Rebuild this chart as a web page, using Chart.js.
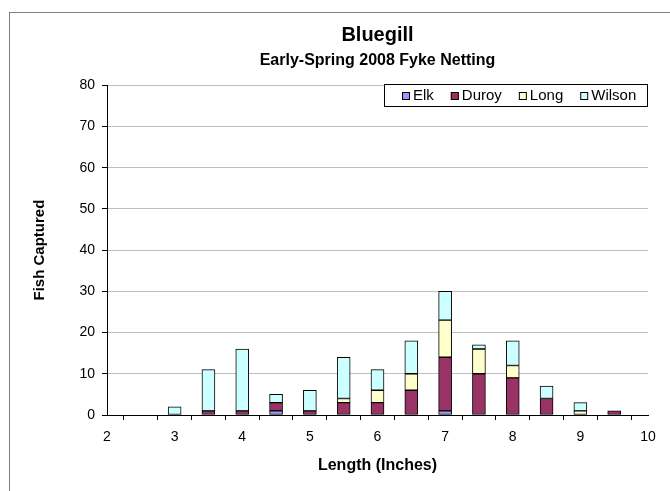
<!DOCTYPE html>
<html>
<head>
<meta charset="utf-8">
<script src="https://cdn.jsdelivr.net/npm/chart.js@4"></script>
<style>
  html, body { margin: 0; padding: 0; background: #fff; }
</style>
</head>
<body>
<canvas id="bar-chart" width="670" height="491"></canvas>
<script>
// length classes (inches), one per bar slot
const lengths = ["2", "2.5", "3", "3.5", "4", "4.5", "5", "5.5", "6", "6.5", "7", "7.5", "8", "8.5", "9", "9.5", "10"];
const tickLabels = ["2", "3", "4", "5", "6", "7", "8", "9", "10"];

// fish captured per lake
const elk    = [0, 0, 0, 0, 0, 1, 0, 0, 0, 0, 1, 0, 0, 0, 0, 0, 0];
const duroy  = [0, 0, 0, 1, 1, 2, 1, 3, 3, 6, 13, 10, 9, 4, 0, 1, 0];
const long   = [0, 0, 0, 0, 0, 0, 0, 1, 3, 4, 9, 6, 3, 0, 1, 0, 0];
const wilson = [0, 0, 2, 10, 15, 2, 5, 10, 5, 8, 7, 1, 6, 3, 2, 0, 0];

const FONT = "'Liberation Sans', Arial, sans-serif";
Chart.defaults.font.family = FONT;
Chart.defaults.color = '#000';

// outer frame like the spreadsheet chart object
const frame = {
    id: 'frame',
    beforeDraw(chart) {
        const ctx = chart.ctx;
        ctx.save();
        ctx.fillStyle = '#fff';
        ctx.fillRect(0, 0, chart.width, chart.height);
        ctx.strokeStyle = '#808080';
        ctx.lineWidth = 1;
        ctx.strokeRect(9.5, 12.5, 700, 600);
        ctx.restore();
    }
};

// boxed legend in the top right corner of the plot
const boxLegend = {
    id: 'boxLegend',
    afterDraw(chart) {
        const ctx = chart.ctx, area = chart.chartArea;
        const sets = chart.data.datasets;
        ctx.save();
        ctx.font = '15px ' + FONT;
        const sq = 8, gapText = 3, gapItem = 17, padL = 18, padR = 12, h = 22;
        let w = padL + padR;
        sets.forEach((d, i) => {
            w += sq + gapText + ctx.measureText(d.label).width;
            if (i) w += gapItem;
        });
        w = Math.round(w);
        const x0 = area.right - w, y0 = Math.round(area.top) - 1;
        ctx.fillStyle = '#fff';
        ctx.fillRect(x0, y0, w, h);
        ctx.strokeStyle = '#000';
        ctx.lineWidth = 1;
        ctx.strokeRect(x0 + 0.5, y0 + 0.5, w - 1, h);
        let x = x0 + padL;
        const cy = y0 + h / 2 + 1;
        ctx.textBaseline = 'middle';
        sets.forEach(d => {
            ctx.fillStyle = d.backgroundColor;
            ctx.fillRect(x, cy - sq / 2, sq, sq);
            ctx.strokeRect(x + 0.5, cy - sq / 2 + 0.5, sq - 1, sq - 1);
            x += sq + gapText;
            ctx.fillStyle = '#000';
            ctx.fillText(d.label, x, cy);
            x += ctx.measureText(d.label).width + gapItem;
        });
        ctx.restore();
    }
};

const barStyle = { borderColor: '#000', borderWidth: 1, borderSkipped: false, barThickness: 13 };
// empty slots draw nothing
const noZero = arr => arr.map(v => (v === 0 ? null : v));

new Chart(document.getElementById("bar-chart"), {
    type: 'bar',
    data: {
        labels: lengths,
        datasets: [
            { label: 'Elk', data: noZero(elk), backgroundColor: '#9999FF', ...barStyle },
            { label: 'Duroy', data: noZero(duroy), backgroundColor: '#993366', ...barStyle },
            { label: 'Long', data: noZero(long), backgroundColor: '#FFFFCC', ...barStyle },
            { label: 'Wilson', data: noZero(wilson), backgroundColor: '#CCFFFF', ...barStyle }
        ]
    },
    options: {
        responsive: false,
        animation: false,
        layout: { padding: { top: 23, left: 20, right: 22, bottom: 0 } },
        plugins: {
            legend: { display: false },
            tooltip: { enabled: false },
            title: {
                display: true,
                text: 'Bluegill',
                fullSize: false,
                font: { size: 20, weight: 'bold' },
                padding: { top: 0, bottom: 4 }
            },
            subtitle: {
                display: true,
                text: 'Early-Spring 2008 Fyke Netting',
                fullSize: false,
                color: '#000',
                font: { size: 16, weight: 'bold' },
                padding: { top: 0, bottom: 15 }
            }
        },
        scales: {
            x: {
                stacked: true,
                offset: false,
                border: { color: '#000' },
                grid: { drawOnChartArea: false, tickColor: '#000', tickLength: 5 },
                ticks: {
                    autoSkip: false,
                    maxRotation: 0,
                    padding: 9,
                    font: { size: 14 },
                    callback: function (v) {
                        const lab = this.getLabelForValue(v);
                        return tickLabels.includes(lab) ? lab : '';
                    }
                },
                title: {
                    display: true,
                    text: 'Length (Inches)',
                    font: { size: 16, weight: 'bold' },
                    padding: { top: 0, bottom: 16 }
                },
                afterFit: (scale) => { scale.height = 76; }
            },
            y: {
                stacked: true,
                min: 0,
                max: 80,
                border: { color: '#000' },
                grid: { color: '#c0c0c0', tickColor: '#000', tickLength: 5 },
                ticks: { stepSize: 10, padding: 7, font: { size: 14 } },
                title: {
                    display: true,
                    text: 'Fish Captured',
                    font: { size: 15, weight: 'bold' },
                    padding: { top: 11, bottom: 0 }
                },
                afterFit: (scale) => { scale.width = 87; }
            }
        }
    },
    plugins: [frame, boxLegend]
});
</script>
</body>
</html>
